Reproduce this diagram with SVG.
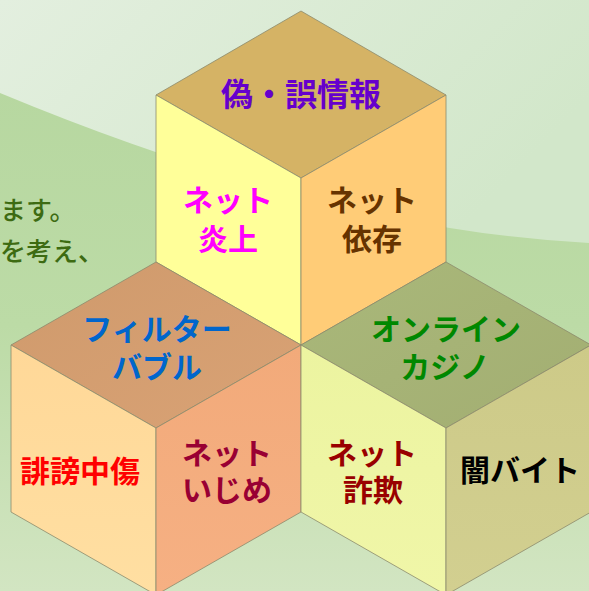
<svg xmlns="http://www.w3.org/2000/svg" width="589" height="591" viewBox="0 0 589 591">
  <defs>
    <linearGradient id="bgLow" x1="0" y1="0" x2="0" y2="1">
      <stop offset="0" stop-color="#b5d69e"/>
      <stop offset="0.55" stop-color="#bcdba6"/>
      <stop offset="1" stop-color="#d2e5c2"/>
    </linearGradient>
    <linearGradient id="bgHigh" x1="0" y1="0" x2="1" y2="0.4">
      <stop offset="0" stop-color="#e3efdf"/>
      <stop offset="1" stop-color="#d2e7ca"/>
    </linearGradient>
    <linearGradient id="blTop" x1="0" y1="0" x2="1" y2="1">
      <stop offset="0" stop-color="#cf9a6c"/>
      <stop offset="1" stop-color="#d9a275"/>
    </linearGradient>
    <linearGradient id="blLeft" x1="0" y1="0" x2="0" y2="1">
      <stop offset="0" stop-color="#ffd898"/>
      <stop offset="1" stop-color="#ffdfa2"/>
    </linearGradient>
    <linearGradient id="blRight" x1="0" y1="0" x2="0" y2="1">
      <stop offset="0" stop-color="#f2aa7a"/>
      <stop offset="1" stop-color="#f6b083"/>
    </linearGradient>
    <linearGradient id="brTop" x1="0" y1="0" x2="1" y2="1">
      <stop offset="0" stop-color="#a9b87a"/>
      <stop offset="1" stop-color="#a3ae72"/>
    </linearGradient>
    <linearGradient id="brLeft" x1="0" y1="0" x2="0" y2="1">
      <stop offset="0" stop-color="#ecf4a0"/>
      <stop offset="1" stop-color="#f0f6a8"/>
    </linearGradient>
    <linearGradient id="brRight" x1="0" y1="0" x2="0" y2="1">
      <stop offset="0" stop-color="#cdca88"/>
      <stop offset="1" stop-color="#d2cf90"/>
    </linearGradient>
  </defs>
  <style>
    .face { stroke: #8c8a6c; stroke-width: 0.8; stroke-linejoin: round; }
    .lbl { font-family: "Noto Sans CJK JP", "Noto Sans CJK SC", sans-serif; font-weight: 700; font-size: 30px; text-anchor: middle; }
    .side { font-family: "Noto Sans CJK JP", sans-serif; font-weight: 500; font-size: 26px; fill: #3d6b12; }
  </style>

  <!-- background -->
  <rect x="0" y="0" width="589" height="591" fill="url(#bgLow)"/>
  <path d="M0,0 H589 V243 Q330,230 0,93 Z" fill="url(#bgHigh)"/>

  <!-- side text -->
  <text class="side" x="0" y="220">ます。</text>
  <text class="side" x="0" y="261">を考え、</text>

  <!-- top cube -->
  <g id="cube-top">
    <path class="face" d="M301,11 L446,95 L301,178 L156,95 Z" fill="#d5b365"/>
    <path class="face" d="M156,95 L301,178 L301,345 L156,262 Z" fill="#ffff99"/>
    <path class="face" d="M301,178 L446,95 L446,262 L301,345 Z" fill="#ffcc77"/>
    <text class="lbl" x="301" y="106" style="font-size:32px" fill="#6600cc">偽・誤情報</text>
    <text class="lbl" x="228" y="211" fill="#ff00ff">ネット</text>
    <text class="lbl" x="228" y="250" fill="#ff00ff">炎上</text>
    <text class="lbl" x="372" y="211" fill="#663300">ネット</text>
    <text class="lbl" x="372" y="250" fill="#663300">依存</text>
  </g>

  <!-- bottom-left cube -->
  <g id="cube-left">
    <path class="face" d="M156,262 L301,345 L156,428 L11,345 Z" fill="url(#blTop)"/>
    <path class="face" d="M11,345 L156,428 L156,595 L11,512 Z" fill="url(#blLeft)"/>
    <path class="face" d="M156,428 L301,345 L301,512 L156,595 Z" fill="url(#blRight)"/>
    <text class="lbl" x="157" y="340" fill="#0066cc">フィルター</text>
    <text class="lbl" x="157" y="378" fill="#0066cc">バブル</text>
    <text class="lbl" x="80" y="482" fill="#ff0000">誹謗中傷</text>
    <text class="lbl" x="227" y="464" fill="#990033">ネット</text>
    <text class="lbl" x="227" y="501" fill="#990033">いじめ</text>
  </g>

  <!-- bottom-right cube -->
  <g id="cube-right">
    <path class="face" d="M446,262 L591,345 L446,428 L301,345 Z" fill="url(#brTop)"/>
    <path class="face" d="M301,345 L446,428 L446,595 L301,512 Z" fill="url(#brLeft)"/>
    <path class="face" d="M446,428 L591,345 L591,512 L446,595 Z" fill="url(#brRight)"/>
    <text class="lbl" x="446" y="340" fill="#008800">オンライン</text>
    <text class="lbl" x="445" y="378" fill="#008800">カジノ</text>
    <text class="lbl" x="372" y="464" fill="#990000">ネット</text>
    <text class="lbl" x="373" y="501" fill="#990000">詐欺</text>
    <text class="lbl" x="520" y="481" fill="#000000">闇バイト</text>
  </g>

  <g id="connectors"/>
</svg>
